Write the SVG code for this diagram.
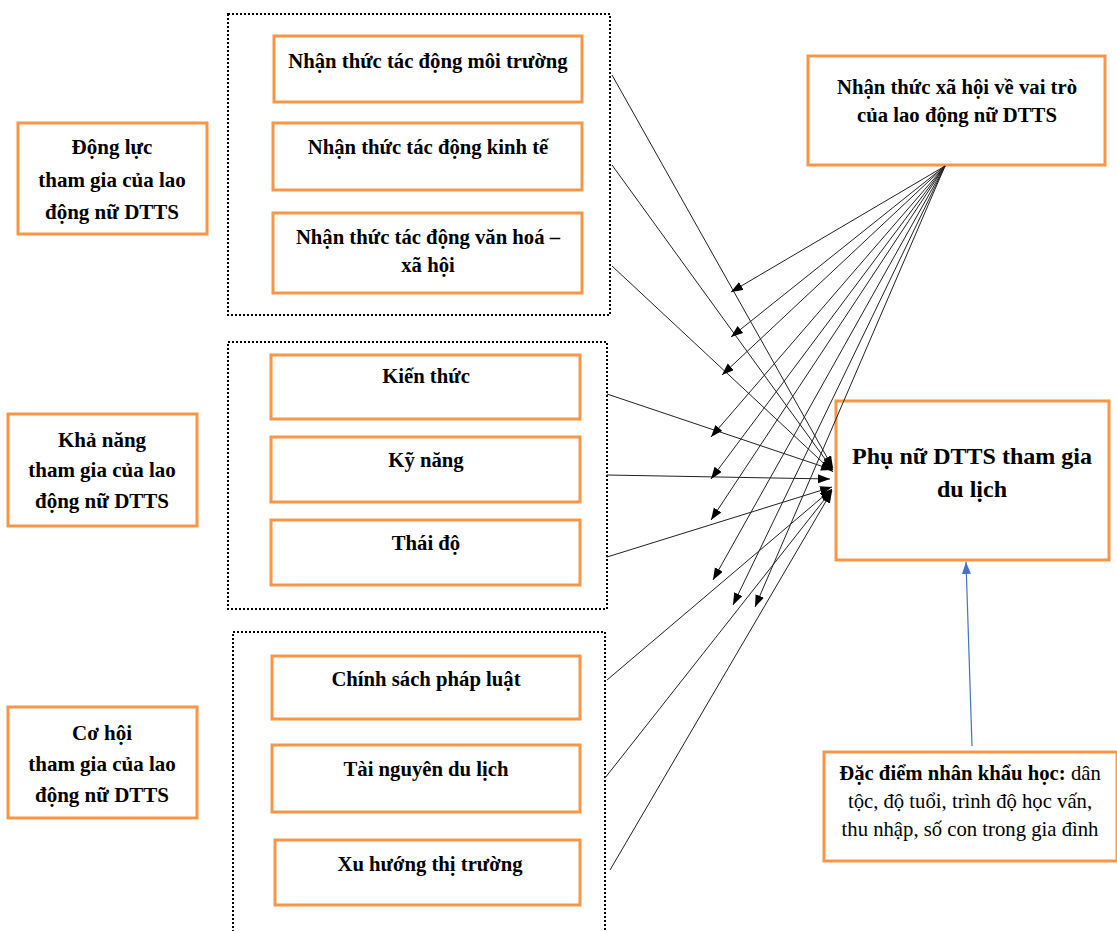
<svg xmlns="http://www.w3.org/2000/svg" width="1117" height="931" viewBox="0 0 1117 931">
<style>
.ob{fill:#fff;stroke:#F79646;stroke-width:3}
.dot{fill:none;stroke:#000;stroke-width:2;stroke-dasharray:2 2}
.t{font-family:"Liberation Serif","Times New Roman",serif;font-size:20.7px;font-weight:bold;fill:#000;text-anchor:middle}
.tl{font-family:"Liberation Serif","Times New Roman",serif;font-size:21px;font-weight:bold;fill:#000;text-anchor:middle}
.tm{font-family:"Liberation Serif","Times New Roman",serif;font-size:24px;font-weight:bold;fill:#000;text-anchor:middle}
.td{font-family:"Liberation Serif","Times New Roman",serif;font-size:20.7px;fill:#000;text-anchor:middle}
.c{stroke:#222;stroke-width:1;fill:none;marker-end:url(#ah)}
.cb{stroke:#4472C4;stroke-width:1.2;fill:none;marker-end:url(#ahb)}
</style>
<defs>
<marker id="ah" markerUnits="userSpaceOnUse" markerWidth="13" markerHeight="10" refX="12" refY="4.5" orient="auto"><path d="M0,0 L12,4.5 L0,9 z" fill="#000"/></marker>
<marker id="ahb" markerUnits="userSpaceOnUse" markerWidth="13" markerHeight="10" refX="12" refY="4.5" orient="auto"><path d="M0,0 L12,4.5 L0,9 z" fill="#4472C4"/></marker>
</defs>
<rect width="1117" height="931" fill="#fff"/>
<g id="group-dongluc"><rect class="dot" x="228" y="14" width="382" height="301"/></g>
<g id="group-khanang"><rect class="dot" x="228" y="342" width="379" height="267"/></g>
<g id="group-cohoi"><rect class="dot" x="233" y="632" width="372" height="310"/></g>
<g id="dongluc"><rect class="ob" x="18" y="123" width="189" height="111"/><text class="tl" x="112" y="154">Động lực</text><text class="tl" x="112" y="187">tham gia của lao</text><text class="tl" x="112" y="219">động nữ DTTS</text></g>
<g id="khanang"><rect class="ob" x="8" y="414" width="189" height="112"/><text class="tl" x="102" y="447">Khả năng</text><text class="tl" x="102" y="477">tham gia của lao</text><text class="tl" x="102" y="508">động nữ DTTS</text></g>
<g id="cohoi"><rect class="ob" x="8" y="707" width="189" height="111"/><text class="tl" x="102" y="740">Cơ hội</text><text class="tl" x="102" y="771">tham gia của lao</text><text class="tl" x="102" y="802">động nữ DTTS</text></g>
<g id="n1"><rect class="ob" x="274" y="36" width="308" height="66"/><text class="t" x="428" y="68">Nhận thức tác động môi trường</text></g>
<g id="n2"><rect class="ob" x="273" y="123" width="309" height="67"/><text class="t" x="428" y="154">Nhận thức tác động kinh tế</text></g>
<g id="n3"><rect class="ob" x="273" y="213" width="309" height="80"/><text class="t" x="428" y="244">Nhận thức tác động văn hoá –</text><text class="t" x="428" y="272">xã hội</text></g>
<g id="n4"><rect class="ob" x="271" y="355" width="309" height="64"/><text class="t" x="426" y="383">Kiến thức</text></g>
<g id="n5"><rect class="ob" x="271" y="437" width="309" height="65"/><text class="t" x="426" y="467">Kỹ năng</text></g>
<g id="n6"><rect class="ob" x="271" y="520" width="309" height="65"/><text class="t" x="426" y="550">Thái độ</text></g>
<g id="n7"><rect class="ob" x="272" y="656" width="308" height="63"/><text class="t" x="426" y="686">Chính sách pháp luật</text></g>
<g id="n8"><rect class="ob" x="272" y="745" width="308" height="67"/><text class="t" x="426" y="776">Tài nguyên du lịch</text></g>
<g id="n9"><rect class="ob" x="275" y="840" width="305" height="65"/><text class="t" x="430" y="871">Xu hướng thị trường</text></g>
<g id="nhanthucxahoi"><rect class="ob" x="808" y="56" width="297" height="109"/><text class="t" x="957" y="94">Nhận thức xã hội về vai trò</text><text class="t" x="957" y="122">của lao động nữ DTTS</text></g>
<g id="phunu"><rect class="ob" x="836" y="401" width="273" height="159"/><text class="tm" x="972" y="464">Phụ nữ DTTS tham gia</text><text class="tm" x="972" y="497">du lịch</text></g>
<g id="dacdiem"><rect class="ob" x="824" y="752" width="293" height="109"/><text class="td" x="970" y="780"><tspan font-weight="bold">Đặc điểm nhân khẩu học:</tspan> dân</text><text class="td" x="970" y="808">tộc, độ tuổi, trình độ học vấn,</text><text class="td" x="970" y="836">thu nhập, số con trong gia đình</text></g>
<g id="connectors">
<line class="c" x1="612" y1="75" x2="833" y2="468"/>
<line class="c" x1="612" y1="165" x2="833" y2="470"/>
<line class="c" x1="612" y1="266" x2="833" y2="472"/>
<line class="c" x1="607" y1="394" x2="833" y2="470"/>
<line class="c" x1="607" y1="475" x2="830" y2="479"/>
<line class="c" x1="607" y1="557" x2="832" y2="487"/>
<line class="c" x1="607" y1="680" x2="832" y2="489"/>
<line class="c" x1="605" y1="778" x2="832" y2="490"/>
<line class="c" x1="610" y1="870" x2="832" y2="491"/>
<line class="c" x1="945" y1="166" x2="731" y2="292"/>
<line class="c" x1="945" y1="166" x2="731" y2="337"/>
<line class="c" x1="945" y1="166" x2="722" y2="375"/>
<line class="c" x1="945" y1="166" x2="711" y2="437"/>
<line class="c" x1="945" y1="166" x2="711" y2="479"/>
<line class="c" x1="945" y1="166" x2="711" y2="520"/>
<line class="c" x1="945" y1="166" x2="713" y2="580"/>
<line class="c" x1="945" y1="166" x2="733" y2="605"/>
<line class="c" x1="945" y1="166" x2="755" y2="607"/>
<line class="cb" x1="972" y1="746" x2="966" y2="562"/>
</g>
</svg>
